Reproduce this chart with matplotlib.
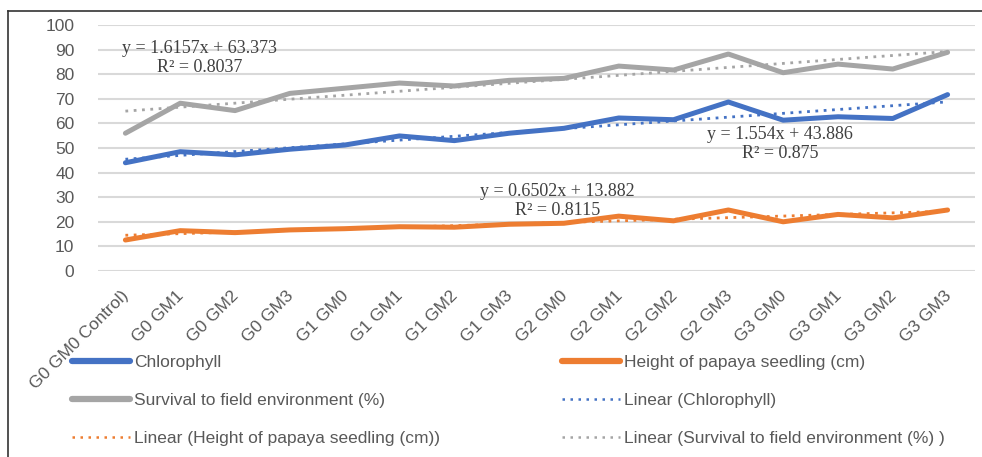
import numpy as np
import matplotlib
matplotlib.use("Agg")
import matplotlib.pyplot as plt
from matplotlib.lines import Line2D
from matplotlib.transforms import ScaledTranslation

plt.rcParams['font.family'] = ['Liberation Sans Narrow', 'Liberation Sans', 'DejaVu Sans']

categories = ["G0 GM0 Control)", "G0 GM1", "G0 GM2", "G0 GM3",
              "G1 GM0", "G1 GM1", "G1 GM2", "G1 GM3",
              "G2 GM0", "G2 GM1", "G2 GM2", "G2 GM3",
              "G3 GM0", "G3 GM1", "G3 GM2", "G3 GM3"]

chlorophyll = [44.0, 48.5, 47.2, 49.5, 51.2, 54.9, 53.0, 56.0,
               58.0, 62.2, 61.5, 68.7, 61.3, 62.7, 62.0, 71.7]
height = [12.6, 16.4, 15.6, 16.7, 17.2, 18.0, 17.8, 19.0,
          19.4, 22.3, 20.4, 24.8, 20.0, 23.0, 21.6, 24.8]
survival = [56.0, 68.2, 65.2, 72.2, 74.3, 76.4, 75.2, 77.5,
            78.3, 83.3, 81.7, 88.2, 80.6, 84.1, 82.1, 88.9]

# trendline coefficients as printed on the chart (slope, intercept, R^2)
trend_chl = (1.554, 43.886, 0.875)
trend_height = (0.6502, 13.882, 0.8115)
trend_surv = (1.6157, 63.373, 0.8037)

BLUE = "#4472C4"
ORANGE = "#ED7D31"
GREY = "#A5A5A5"
TXT = "#595959"

fig = plt.figure(figsize=(9.82, 4.57), dpi=100)
W, H = 982, 457
ax = fig.add_axes([98 / W, 1 - 271 / H, (975 - 98) / W, (271 - 25) / H])

x = np.arange(1, len(categories) + 1)

ax.plot(x, chlorophyll, color=BLUE, lw=3.6, solid_capstyle='round', zorder=3)
ax.plot(x, height, color=ORANGE, lw=3.6, solid_capstyle='round', zorder=3)
ax.plot(x, survival, color=GREY, lw=3.6, solid_capstyle='round', zorder=3)

for (m, b, r2), c in [(trend_chl, BLUE), (trend_height, ORANGE), (trend_surv, GREY)]:
    ax.plot(x, m * x + b, color=c, lw=2.0, ls=(0, (1, 2)), zorder=4)

ax.set_xlim(0.5, len(categories) + 0.5)
ax.set_ylim(0, 100)
ax.set_yticks(range(0, 101, 10))
ax.grid(axis='y', color="#d9d9d9", lw=1.5, zorder=0)
ax.set_axisbelow(True)
for s in ax.spines.values():
    s.set_visible(False)
ax.tick_params(axis='y', length=0, pad=17, labelsize=12.5, labelcolor=TXT)
ax.tick_params(axis='x', length=0, pad=12.5, labelsize=12.5, labelcolor=TXT)
ax.set_xticks(x)
ax.set_xticklabels(categories, rotation=45, ha='right', va='top', rotation_mode='anchor')
shift = ScaledTranslation(-4 / 100, 0, fig.dpi_scale_trans)
for lbl in ax.get_xticklabels():
    lbl.set_transform(lbl.get_transform() + shift)

eq_font = dict(family='Liberation Serif', fontsize=13, color="#404040",
               ha='center', va='center', linespacing=1.15, zorder=5)
ax.text(2.36, 86.6, "y = %.4fx + %.3f\nR² = %.4f" % trend_surv, **eq_font)
ax.text(12.95, 51.6, "y = %.3fx + %.3f\nR² = %.3f" % trend_chl, **eq_font)
ax.text(8.88, 28.5, "y = %.4fx + %.3f\nR² = %.4f" % trend_height, **eq_font)

solid = dict(lw=4.5, solid_capstyle='round')
dot = dict(lw=1.8, ls=(0, (1, 2.2)))
col1 = [Line2D([], [], color=BLUE, **solid),
        Line2D([], [], color=GREY, **solid),
        Line2D([], [], color=ORANGE, **dot)]
lab1 = ["Chlorophyll", "Survival to field environment (%)",
        "Linear (Height of papaya seedling (cm))"]
col2 = [Line2D([], [], color=ORANGE, **solid),
        Line2D([], [], color=BLUE, **dot),
        Line2D([], [], color=GREY, **dot)]
lab2 = ["Height of papaya seedling (cm)", "Linear (Chlorophyll)",
        "Linear (Survival to field environment (%) )"]

leg_kw = dict(loc='upper left', frameon=False, borderpad=0, borderaxespad=0,
              handlelength=3.35, handletextpad=0.2, labelspacing=1.3,
              fontsize=12.5, labelcolor=TXT)
fig.legend(col1, lab1, bbox_to_anchor=(72 / W, 1 - 355 / H), **leg_kw)
fig.legend(col2, lab2, bbox_to_anchor=(562 / W, 1 - 355 / H), **leg_kw)

# outer frame (left and top edges only, as in the source)
fig.add_artist(Line2D([8 / W, 8 / W], [0, 1 - 11 / H], color="#333333", lw=1.2))
fig.add_artist(Line2D([8 / W, 1], [1 - 11 / H, 1 - 11 / H], color="#333333", lw=1.2))

fig.savefig("out.png", dpi=100)
